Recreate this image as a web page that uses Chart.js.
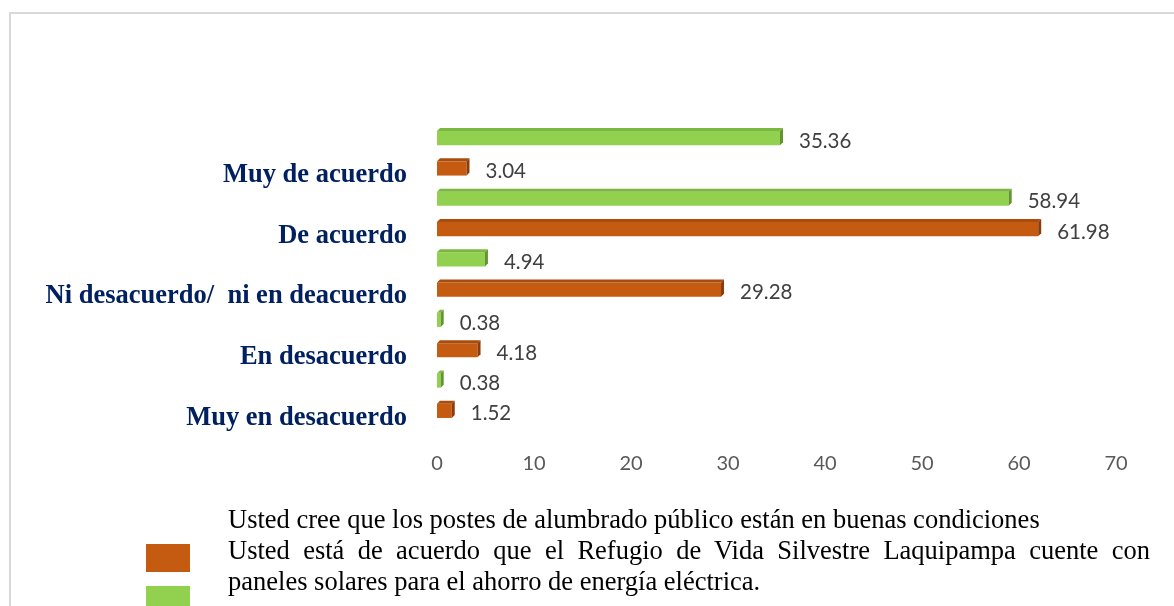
<!DOCTYPE html>
<html>
<head>
<meta charset="utf-8">
<script src="https://cdn.jsdelivr.net/npm/chart.js@4.4.1/dist/chart.umd.min.js"></script>
<style>
  html, body { margin: 0; padding: 0; background: #fff; }
  #wrap { position: relative; width: 1174px; height: 606px; overflow: hidden; }
  #marco { position: absolute; left: 9px; top: 12px; width: 1300px; height: 700px;
    border-top: 2px solid #d9d9d9; border-left: 2px solid #d9d9d9; }
  #grafico { position: absolute; left: 0; top: 0; }
  .cuadro { position: absolute; left: 146px; width: 44px; height: 28px; }
  .txt { position: absolute; left: 228px; width: 922px; line-height: 31px;
    font-family: 'Liberation Serif', 'Times New Roman', serif; font-size: 26.5px; color: #000; }
</style>
</head>
<body>
<div id="wrap">
  <div id="marco"></div>
  <canvas id="grafico" width="1174" height="606"></canvas>
  <div id="leyenda"></div>
</div>
<script>
// categorías (eje Y) y series
const categorias = ['Muy de acuerdo', 'De acuerdo', 'Ni desacuerdo/  ni en deacuerdo', 'En desacuerdo', 'Muy en desacuerdo'];
const postes = [3.04, 61.98, 29.28, 4.18, 1.52];      // naranja
const paneles = [35.36, 58.94, 4.94, 0.38, 0.38];     // verde
const ticksX = [0, 10, 20, 30, 40, 50, 60, 70];
const nombrePostes = 'Usted cree que los postes de alumbrado público están en buenas condiciones';
const nombrePaneles = 'Usted está de acuerdo que el Refugio de Vida Silvestre Laquipampa cuente con paneles solares para el ahorro de energía eléctrica.';

const COR = {
  naranja: '#c55a11', naranjaTop: '#a94c0d', naranjaLado: '#8a3d0a',
  verde: '#92d050', verdeTop: '#7cb83f', verdeLado: '#62952e'
};

// leyenda (texto real en HTML)
document.getElementById('leyenda').innerHTML = `
  <div class="cuadro" style="top:544px;background:${COR.naranja}"></div>
  <div class="cuadro" style="top:586px;background:${COR.verde}"></div>
  <div class="txt" style="top:504px">${nombrePostes}</div>
  <div class="txt" style="top:535px;text-align:justify">${nombrePaneles}</div>`;

// barras con efecto 3D + etiquetas de valor
const PROF = 3;
const barras3d = {
  id: 'barras3d',
  afterDatasetsDraw(chart) {
    const ctx = chart.ctx;
    chart.data.datasets.forEach((ds, i) => {
      const meta = chart.getDatasetMeta(i);
      meta.data.forEach((bar, j) => {
        const { x, y, base, height } = bar.getProps(['x', 'y', 'base', 'height'], true);
        const t = y - height / 2, b = y + height / 2, d = PROF;
        ctx.save();
        ctx.fillStyle = ds.corTop;
        ctx.beginPath();
        ctx.moveTo(base, t); ctx.lineTo(base + d, t - d); ctx.lineTo(x + d, t - d); ctx.lineTo(x, t);
        ctx.closePath(); ctx.fill();
        ctx.fillStyle = ds.corLado;
        ctx.beginPath();
        ctx.moveTo(x, t); ctx.lineTo(x + d, t - d); ctx.lineTo(x + d, b - d); ctx.lineTo(x, b);
        ctx.closePath(); ctx.fill();
        ctx.font = '20.5px Lato, sans-serif';
        ctx.fillStyle = '#404040';
        ctx.textBaseline = 'middle';
        ctx.textAlign = 'left';
        ctx.fillText(ds.data[j].toFixed(2), x + 19, y + 3);
        ctx.restore();
      });
    });
  }
};

new Chart(document.getElementById('grafico'), {
  type: 'bar',
  data: {
    labels: categorias,
    datasets: [
      { label: nombrePaneles, data: paneles, backgroundColor: COR.verde, corTop: COR.verdeTop, corLado: COR.verdeLado,
        barPercentage: 0.47, categoryPercentage: 1 },
      { label: nombrePostes, data: postes, backgroundColor: COR.naranja, corTop: COR.naranjaTop, corLado: COR.naranjaLado,
        barPercentage: 0.47, categoryPercentage: 1 }
    ]
  },
  plugins: [barras3d],
  options: {
    indexAxis: 'y',
    responsive: false, animation: false,
    layout: { padding: { left: 0, top: 123, right: 58, bottom: 130 } },
    plugins: { legend: { display: false }, tooltip: { enabled: false } },
    scales: {
      x: {
        min: ticksX[0], max: ticksX[ticksX.length - 1],
        afterBuildTicks: s => { s.ticks = ticksX.map(v => ({ value: v })); },
        grid: { display: false, drawTicks: false }, border: { display: false },
        ticks: { padding: 26, color: '#595959', font: { family: 'Lato', size: 20 } },
        afterFit: s => { s.height = 50; }
      },
      y: {
        grid: { display: false, drawTicks: false }, border: { display: false },
        ticks: { padding: 30, labelOffset: 22, color: '#002060',
          font: { family: "'Liberation Serif', 'Times New Roman', serif", size: 26.5, weight: 'bold' } },
        afterFit: s => { s.width = 437; }
      }
    }
  }
});
</script>
</body>
</html>
